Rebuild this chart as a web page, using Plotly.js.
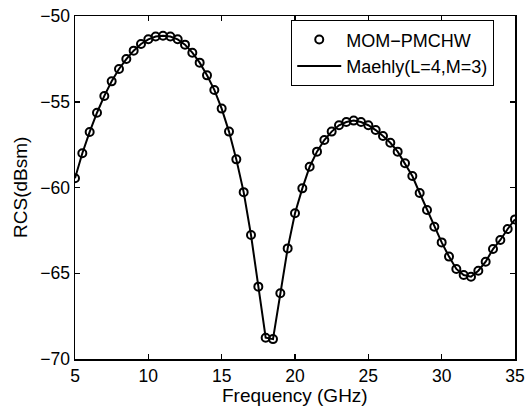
<!DOCTYPE html>
<html>
<head>
<meta charset="utf-8">
<script src="https://cdn.plot.ly/plotly-3.0.1.min.js"></script>
<style>html,body{margin:0;padding:0;background:#fff;}#plot{width:528px;height:412px;}</style>
</head>
<body>
<div id="plot"></div>
<script>
const freq = [5,5.5,6,6.5,7,7.5,8,8.5,9,9.5,10,10.5,11,11.5,12,12.5,13,13.5,14,14.5,15,15.5,16,16.5,17,17.5,18,18.5,19,19.5,20,20.5,21,21.5,22,22.5,23,23.5,24,24.5,25,25.5,26,26.5,27,27.5,28,28.5,29,29.5,30,30.5,31,31.5,32,32.5,33,33.5,34,34.5,35];
const momRcs = [-59.46,-58.0,-56.76,-55.64,-54.66,-53.81,-53.09,-52.51,-52.02,-51.63,-51.36,-51.2,-51.15,-51.2,-51.36,-51.67,-52.14,-52.72,-53.46,-54.31,-55.4,-56.74,-58.36,-60.27,-62.77,-65.78,-68.76,-68.84,-66.17,-63.55,-61.5,-60.05,-58.79,-57.91,-57.23,-56.74,-56.37,-56.18,-56.1,-56.18,-56.37,-56.65,-57.0,-57.39,-57.91,-58.59,-59.33,-60.32,-61.31,-62.29,-63.2,-64.03,-64.75,-65.1,-65.2,-64.85,-64.33,-63.59,-63.06,-62.42,-61.86];
const maehlyRcs = momRcs.slice();
const xTicks = [5,10,15,20,25,30,35];
const yTicks = [-70,-65,-60,-55,-50];
const xTitle = 'Frequency (GHz)';
const yTitle = 'RCS(dBsm)';

const font = {family: 'Liberation Sans, Arial, sans-serif', color: '#000'};

const traces = [
  {x: freq, y: momRcs, name: 'MOM\u2212PMCHW', mode: 'markers', type: 'scatter',
   marker: {symbol: 'circle-open', size: 8, color: '#000', line: {width: 2, color: '#000'}}},
  {x: freq, y: maehlyRcs, name: 'Maehly(L=4,M=3)', mode: 'lines', type: 'scatter',
   line: {color: '#000', width: 2}}
];

const axisCommon = {
  showline: true, linecolor: '#000', linewidth: 1.5, mirror: 'allticks',
  ticks: 'inside', ticklen: 5, tickwidth: 1.5, tickcolor: '#000',
  showgrid: false, zeroline: false, automargin: false,
  tickfont: Object.assign({size: 17.5}, font)
};

const layout = {
  width: 528, height: 412,
  margin: {l: 75, r: 13, t: 16, b: 53},
  paper_bgcolor: '#fff', plot_bgcolor: '#fff',
  showlegend: true,
  legend: {x: 0.491, y: 0.988, xanchor: 'left', yanchor: 'top',
           bordercolor: '#000', borderwidth: 1.2, bgcolor: '#fff', itemwidth: 44,
           font: Object.assign({size: 18}, font), tracegroupgap: 0},
  xaxis: Object.assign({}, axisCommon, {range: [5, 35], tickvals: xTicks}),
  yaxis: Object.assign({}, axisCommon, {range: [-70, -50], tickvals: yTicks}),
  annotations: [
    {text: xTitle, xref: 'paper', yref: 'paper', x: 0.5, y: -0.106,
     xanchor: 'center', yanchor: 'middle', showarrow: false, font: Object.assign({size: 19}, font)},
    {text: yTitle, xref: 'paper', yref: 'paper', x: -0.1239, y: 0.5, textangle: -90,
     xanchor: 'center', yanchor: 'middle', showarrow: false, font: Object.assign({size: 19}, font)}
  ]
};

Plotly.newPlot('plot', traces, layout, {displayModeBar: false, staticPlot: true});
</script>
</body>
</html>
